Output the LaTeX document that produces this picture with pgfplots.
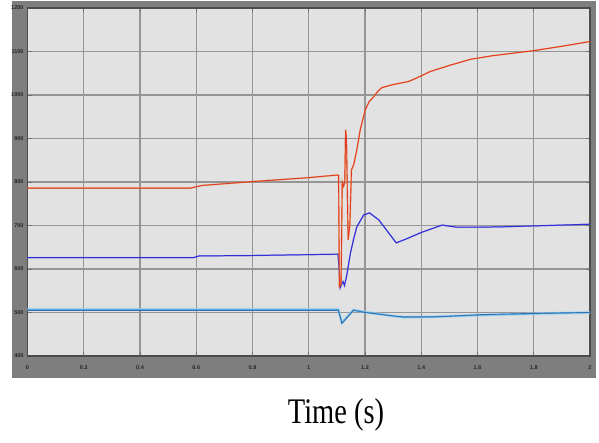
\documentclass[border=0pt]{standalone}
\usepackage{pgfplots}
\pgfplotsset{compat=1.18}
\usepackage{fontspec}
\setmainfont{Liberation Serif}
\setsansfont{Liberation Sans}
\definecolor{framegray}{HTML}{7E7E7E}
\definecolor{plotbg}{HTML}{E2E2E2}
\definecolor{gridgray}{HTML}{959595}
\definecolor{redA}{HTML}{E03A22}
\definecolor{orangeA}{HTML}{F0823A}
\definecolor{blueA}{HTML}{2F2FD8}
\definecolor{blueB}{HTML}{6A6AE8}
\definecolor{cyanA}{HTML}{5AB4E0}
\definecolor{steelA}{HTML}{2E6FB8}
\begin{document}
\begin{tikzpicture}[x=1pt,y=1pt]
\path[use as bounding box] (0,0) rectangle (599,442);
\fill[framegray] (12,64) rectangle (596,441);
\begin{axis}[
  at={(27.5pt,86pt)}, anchor=south west,
  scale only axis, width=562.5pt, height=348pt,
  xmin=0, xmax=2, ymin=400, ymax=1200,
  xtick={0,0.2,...,2}, ytick={400,500,...,1200},
  xticklabels={0,0.2,0.4,0.6,0.8,1,1.2,1.4,1.6,1.8,2},
  yticklabels={400,500,600,700,800,900,1000,1100,1200},
  axis background/.style={fill=plotbg},
  grid=major,
  major grid style={draw=gridgray, line width=1.1pt},
  axis line style={draw=black!70, line width=1.3pt},
  tick style={draw=black!55, line width=0.8pt},
  major tick length=4pt,
  tick label style={font=\sffamily\bfseries\fontsize{5.5}{6}\selectfont, text=black!85},
  xticklabel style={yshift=-6.5pt},
  yticklabel style={xshift=-0.5pt},
  scaled ticks=false,
  xlabel={Time (s)},
  xlabel style={font=\fontsize{36}{40}\selectfont, xscale=0.79, anchor=center,
    at={(axis description cs:0.5484,-0.1695)}},
]
% cyan pair
\addplot[cyanA!60, line width=3pt, opacity=0.6] coordinates {
(0,508) (1.105,508) (1.118,477) (1.159,506) (1.2,501) (1.3,492) (1.337,489) (1.443,490) (1.61,494) (1.80,497) (2.0,500)};
\addplot[cyanA, line width=1.2pt] coordinates {
(0,507) (1.105,507) (1.118,476) (1.159,506) (1.2,501) (1.3,492) (1.337,489) (1.443,490) (1.61,494) (1.80,497) (2.0,500)};
\addplot[steelA, line width=0.9pt] coordinates {
(0,505) (1.105,505) (1.118,475) (1.159,505) (1.2,500) (1.3,492) (1.337,490) (1.45,490) (1.61,495) (1.8,498) (2.0,500)};
% blue pair
\addplot[blueB, line width=1.4pt, opacity=0.6] coordinates {
(0,626) (0.59,626) (0.61,630) (0.8,631) (1.0,633) (1.1,634) (1.104,634) (1.108,600) (1.112,557) (1.117,565) (1.122,571) (1.127,562) (1.135,585) (1.148,636) (1.160,670) (1.171,697) (1.195,724) (1.216,729) (1.249,713) (1.311,660) (1.35,670) (1.40,684) (1.474,701) (1.527,696) (1.6,696) (1.69,697) (1.8,699) (1.9,701) (2.0,703)};
\addplot[blueA, line width=1pt] coordinates {
(0,626) (0.59,626) (0.61,630) (0.8,631) (1.0,633) (1.1,634) (1.104,634) (1.108,600) (1.112,557) (1.117,565) (1.122,571) (1.127,562) (1.135,585) (1.148,636) (1.160,670) (1.171,697) (1.195,724) (1.216,729) (1.249,713) (1.311,660) (1.35,670) (1.40,684) (1.474,701) (1.527,696) (1.6,696) (1.69,697) (1.8,699) (1.9,701) (2.0,703)};
% red pair
\addplot[orangeA, line width=1.4pt, opacity=0.7] coordinates {
(0,786) (0.58,786) (0.62,792) (0.8,801) (1.0,810) (1.1,816) (1.106,815) (1.109,560) (1.115,565) (1.119,800) (1.124,790) (1.128,800) (1.131,920) (1.134,900) (1.140,667) (1.146,700) (1.152,828) (1.160,840) (1.171,874) (1.183,920) (1.201,966) (1.215,985) (1.231,996) (1.245,1008) (1.260,1017) (1.300,1024) (1.355,1031) (1.40,1044) (1.432,1054) (1.50,1068) (1.575,1082) (1.65,1090) (1.70,1094) (1.80,1102) (1.90,1112) (2.0,1123)};
\addplot[redA, line width=0.9pt] coordinates {
(0,786) (0.58,786) (0.62,792) (0.8,801) (1.0,810) (1.1,816) (1.106,815) (1.109,560) (1.115,565) (1.119,800) (1.124,790) (1.128,800) (1.131,920) (1.134,900) (1.140,667) (1.146,700) (1.152,828) (1.160,840) (1.171,874) (1.183,920) (1.201,966) (1.215,985) (1.231,996) (1.245,1008) (1.260,1017) (1.300,1024) (1.355,1031) (1.40,1044) (1.432,1054) (1.50,1068) (1.575,1082) (1.65,1090) (1.70,1094) (1.80,1102) (1.90,1112) (2.0,1123)};
\end{axis}
\end{tikzpicture}
\end{document}
